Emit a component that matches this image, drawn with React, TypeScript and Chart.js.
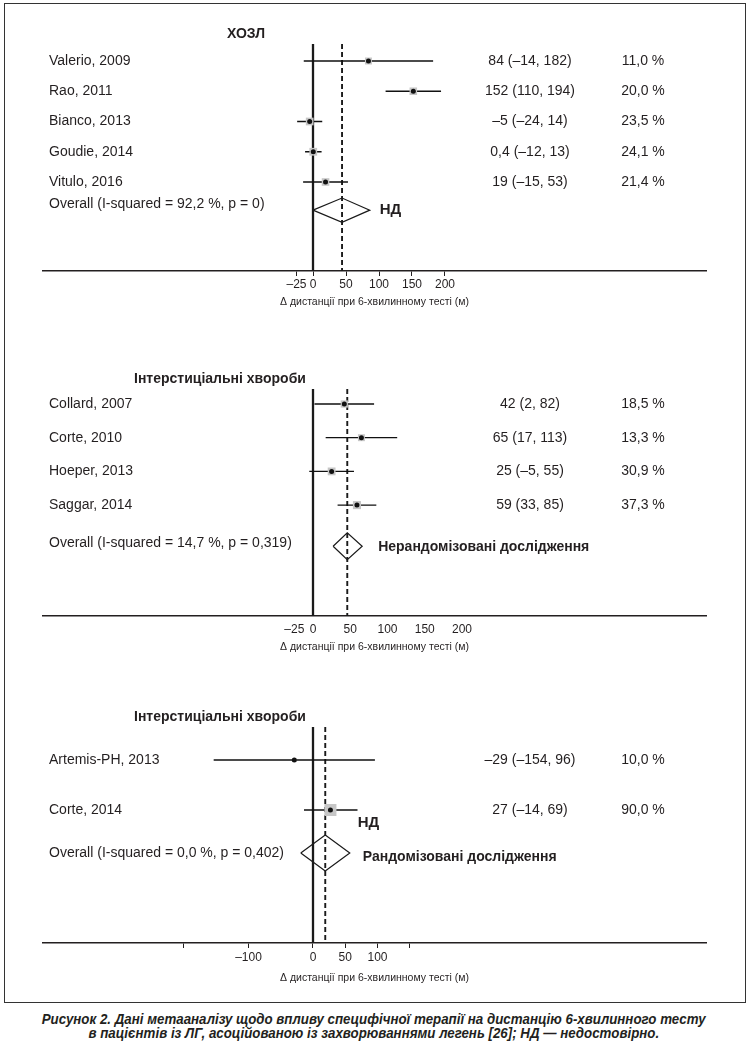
import React, { useEffect, useLayoutEffect, useRef } from "react";
import { Chart, registerables } from "chart.js";
Chart.register(...registerables);

// ---------- Panel 1: ХОЗЛ ----------
const copdHeader = "ХОЗЛ";
const copdStudies = ["Valerio, 2009", "Rao, 2011", "Bianco, 2013", "Goudie, 2014", "Vitulo, 2016"];
const copdEstimate = [84, 152, -5, 0.4, 19];
const copdLower = [-14, 110, -24, -12, -15];
const copdUpper = [182, 194, 14, 13, 53];
const copdWeight = [11.0, 20.0, 23.5, 24.1, 21.4];
const copdOverallLabel = "Overall (I-squared = 92,2 %, p = 0)";
const copdOverall = [0, 44, 86]; // lower, estimate, upper
const copdNotes = ["НД"];
const copdTicks = [-25, 0, 50, 100, 150, 200];
const copdTickLabels = ["–25", "0", "50", "100", "150", "200"];

// ---------- Panel 2: Інтерстиціальні хвороби (нерандомізовані) ----------
const ildNrHeader = "Інтерстиціальні хвороби";
const ildNrStudies = ["Collard, 2007", "Corte, 2010", "Hoeper, 2013", "Saggar, 2014"];
const ildNrEstimate = [42, 65, 25, 59];
const ildNrLower = [2, 17, -5, 33];
const ildNrUpper = [82, 113, 55, 85];
const ildNrWeight = [18.5, 13.3, 30.9, 37.3];
const ildNrOverallLabel = "Overall (I-squared = 14,7 %, p = 0,319)";
const ildNrOverall = [27, 46, 66];
const ildNrNotes = ["Нерандомізовані дослідження"];
const ildNrTicks = [-25, 0, 50, 100, 150, 200];
const ildNrTickLabels = ["–25", "0", "50", "100", "150", "200"];

// ---------- Panel 3: Інтерстиціальні хвороби (рандомізовані) ----------
const ildRHeader = "Інтерстиціальні хвороби";
const ildRStudies = ["Artemis-PH, 2013", "Corte, 2014"];
const ildREstimate = [-29, 27];
const ildRLower = [-154, -14];
const ildRUpper = [96, 69];
const ildRWeight = [10.0, 90.0];
const ildROverallLabel = "Overall (I-squared = 0,0 %, p = 0,402)";
const ildROverall = [-19, 19, 57];
const ildRNotes = ["Рандомізовані дослідження", "НД"];
const ildRTicks = [-200, -100, 0, 50, 100, 150];
const ildRTickLabels = ["", "–100", "0", "50", "100", ""];

const axisTitle = "Δ дистанції при 6-хвилинному тесті (м)";
const caption1 = "Рисунок 2. Дані метааналізу щодо впливу специфічної терапії на дистанцію 6-хвилинного тесту";
const caption2 = "в пацієнтів із ЛГ, асоційованою із захворюваннями легень [26]; НД — недостовірно.";

const INK = "#231f20";
const FONT = '"Liberation Sans", Arial, Helvetica, sans-serif';

type NotePos = { dx: number; dy: number; size: number };
type Layout = {
  top: number;
  height: number;
  padTop: number;
  padBottom: number;
  xMin: number;
  xMax: number;
  yMin: number;
  yMax: number;
  overallGap: number;
  diamondHalf: number;
  headerX: number;
  boxA: number;
  boxB: number;
  tickColor: string;
  tickPadding: number;
  titlePadTop: number;
  overallTextDy: number;
  notePos: NotePos[];
};

type PanelData = {
  header: string;
  studies: string[];
  estimate: number[];
  lower: number[];
  upper: number[];
  weight: number[];
  overallLabel: string;
  overall: number[];
  notes: string[];
  ticks: number[];
  tickLabels: string[];
};

const fmtNum = (v: number) => String(v).replace(".", ",").replace("-", "–");
const fmtCI = (e: number, l: number, h: number) => `${fmtNum(e)} (${fmtNum(l)}, ${fmtNum(h)})`;
const fmtW = (w: number) => w.toFixed(1).replace(".", ",") + " %";

function ForestPanel({ data, layout }: { data: PanelData; layout: Layout }) {
  const ref = useRef<HTMLCanvasElement | null>(null);
  useEffect(() => {
    if (!ref.current) return;
    const n = data.studies.length;
    const overallRow = n + layout.overallGap;
    const rows = data.studies.map((_, i) => i + 1);
    const ci = rows.flatMap((r, i) => [
      { x: data.lower[i], y: r },
      { x: data.upper[i], y: r },
      { x: data.upper[i], y: null as any },
    ]);
    const [oLo, oEst, oHi] = data.overall;
    const dh = layout.diamondHalf;
    const diamond = [
      { x: oLo, y: overallRow },
      { x: oEst, y: overallRow - dh },
      { x: oHi, y: overallRow },
      { x: oEst, y: overallRow + dh },
      { x: oLo, y: overallRow },
    ];
    const points = rows.map((r, i) => ({ x: data.estimate[i], y: r }));
    const boxRadii = data.weight.map((w) => (layout.boxA + layout.boxB * Math.sqrt(w)) / Math.SQRT2);

    const textPlugin = {
      id: "forestText",
      afterDraw(chart: any) {
        const { ctx, chartArea, scales } = chart;
        const ys = scales.y;
        const xs = scales.x;
        ctx.save();
        ctx.fillStyle = INK;
        ctx.textBaseline = "middle";
        ctx.textAlign = "left";
        ctx.font = `bold 14px ${FONT}`;
        ctx.fillText(data.header, layout.headerX, chartArea.top - 10);
        ctx.font = `14px ${FONT}`;
        rows.forEach((r, i) => {
          const py = ys.getPixelForValue(r);
          ctx.textAlign = "left";
          ctx.fillText(data.studies[i], 49, py);
          ctx.textAlign = "center";
          ctx.fillText(fmtCI(data.estimate[i], data.lower[i], data.upper[i]), 530, py);
          ctx.fillText(fmtW(data.weight[i]), 643, py);
        });
        const oy = ys.getPixelForValue(overallRow);
        ctx.textAlign = "left";
        ctx.fillText(data.overallLabel, 49, oy + layout.overallTextDy);
        const rightPx = xs.getPixelForValue(oHi);
        data.notes.forEach((t, i) => {
          const np = layout.notePos[i];
          ctx.font = `bold ${np.size}px ${FONT}`;
          ctx.fillText(t, rightPx + np.dx, oy + np.dy);
        });
        ctx.restore();
      },
    };

    const chart = new Chart(ref.current, {
      type: "scatter",
      data: {
        datasets: [
          {
            data: points,
            pointStyle: "circle",
            pointRadius: 2.5,
            backgroundColor: "#111",
            borderWidth: 0,
            order: 0,
          },
          {
            data: points,
            pointStyle: "rect",
            pointRadius: boxRadii,
            backgroundColor: "#c6c6c6",
            borderWidth: 0,
            order: 1,
          },
          {
            data: ci,
            showLine: true,
            spanGaps: false,
            borderColor: "#111",
            borderWidth: 1.3,
            pointRadius: 0,
            order: 2,
          },
          {
            data: [
              { x: 0, y: layout.yMin },
              { x: 0, y: layout.yMax },
            ],
            showLine: true,
            borderColor: "#1a1a1a",
            borderWidth: 2.3,
            pointRadius: 0,
            order: 3,
          },
          {
            data: [
              { x: oEst, y: layout.yMin },
              { x: oEst, y: layout.yMax },
            ],
            showLine: true,
            borderColor: "#1a1a1a",
            borderWidth: 1.9,
            borderDash: [5, 3],
            pointRadius: 0,
            order: 4,
          },
          {
            data: diamond,
            showLine: true,
            borderColor: "#1a1a1a",
            borderWidth: 1.2,
            borderJoinStyle: "miter",
            pointRadius: 0,
            order: 5,
          },
        ] as any,
      },
      options: {
        responsive: false,
        maintainAspectRatio: false,
        animation: false,
        events: [],
        layout: { padding: { left: 43, right: 42, top: layout.padTop, bottom: layout.padBottom } },
        plugins: { legend: { display: false }, tooltip: { enabled: false } },
        scales: {
          x: {
            type: "linear",
            min: layout.xMin,
            max: layout.xMax,
            afterBuildTicks: (s: any) => {
              s.ticks = data.ticks.map((v) => ({ value: v }));
            },
            ticks: {
              autoSkip: false,
              maxRotation: 0,
              padding: layout.tickPadding,
              color: INK,
              font: { family: FONT, size: 12 },
              callback: (_v: any, i: number) => data.tickLabels[i],
            },
            grid: {
              display: true,
              drawOnChartArea: false,
              drawTicks: true,
              tickLength: 5,
              color: layout.tickColor,
              lineWidth: 1,
            },
            border: { display: true, color: INK, width: 1.5 },
            title: {
              display: true,
              text: axisTitle,
              color: INK,
              font: { family: FONT, size: 10.5 },
              padding: { top: layout.titlePadTop, bottom: 2 },
            },
          },
          y: {
            type: "linear",
            display: false,
            reverse: true,
            min: layout.yMin,
            max: layout.yMax,
          },
        },
      } as any,
      plugins: [textPlugin],
    });
    return () => chart.destroy();
  }, [data, layout]);
  return (
    <canvas
      ref={ref}
      width={748}
      height={layout.height}
      style={{ position: "absolute", left: 0, top: layout.top, width: 748, height: layout.height }}
    />
  );
}

const copdData: PanelData = {
  header: copdHeader,
  studies: copdStudies,
  estimate: copdEstimate,
  lower: copdLower,
  upper: copdUpper,
  weight: copdWeight,
  overallLabel: copdOverallLabel,
  overall: copdOverall,
  notes: copdNotes,
  ticks: copdTicks,
  tickLabels: copdTickLabels,
};
const ildNrData: PanelData = {
  header: ildNrHeader,
  studies: ildNrStudies,
  estimate: ildNrEstimate,
  lower: ildNrLower,
  upper: ildNrUpper,
  weight: ildNrWeight,
  overallLabel: ildNrOverallLabel,
  overall: ildNrOverall,
  notes: ildNrNotes,
  ticks: ildNrTicks,
  tickLabels: ildNrTickLabels,
};
const ildRData: PanelData = {
  header: ildRHeader,
  studies: ildRStudies,
  estimate: ildREstimate,
  lower: ildRLower,
  upper: ildRUpper,
  weight: ildRWeight,
  overallLabel: ildROverallLabel,
  overall: ildROverall,
  notes: ildRNotes,
  ticks: ildRTicks,
  tickLabels: ildRTickLabels,
};

const copdLayout: Layout = {
  top: 0,
  height: 320,
  padTop: 44,
  padBottom: 10,
  xMin: (43 - 313) / 0.66,
  xMax: (706 - 313) / 0.66,
  yMin: 1 - 17 / 30.25,
  yMax: 1 + 210 / 30.25,
  overallGap: 0.93,
  diamondHalf: 0.4,
  headerX: 227,
  boxA: 5.3,
  boxB: 0.5,
  tickColor: INK,
  tickPadding: 1,
  titlePadTop: 3,
  overallTextDy: -6,
  notePos: [{ dx: 10, dy: 0, size: 15 }],
};
const ildNrLayout: Layout = {
  top: 340,
  height: 320,
  padTop: 49,
  padBottom: 5,
  xMin: (43 - 313) / 0.745,
  xMax: (706 - 313) / 0.745,
  yMin: 1 - 15 / 33.7,
  yMax: 1 + 212 / 33.7,
  overallGap: 1.22,
  diamondHalf: 0.4,
  headerX: 134,
  boxA: 5.3,
  boxB: 0.45,
  tickColor: "rgba(0,0,0,0)",
  tickPadding: 1,
  titlePadTop: 3,
  overallTextDy: -3,
  notePos: [{ dx: 16, dy: 1, size: 14 }],
};
const ildRLayout: Layout = {
  top: 680,
  height: 320,
  padTop: 47,
  padBottom: 14,
  xMin: (43 - 313) / 0.645,
  xMax: (706 - 313) / 0.645,
  yMin: 1 - 33 / 50,
  yMax: 1 + 183 / 50,
  overallGap: 0.86,
  diamondHalf: 0.36,
  headerX: 134,
  boxA: 0,
  boxB: 1.27,
  tickColor: INK,
  tickPadding: 2,
  titlePadTop: 5,
  overallTextDy: 0,
  notePos: [
    { dx: 13, dy: 4, size: 14 },
    { dx: 8, dy: -30, size: 15 },
  ],
};

function Caption() {
  const l1 = useRef<HTMLSpanElement | null>(null);
  const l2 = useRef<HTMLSpanElement | null>(null);
  useLayoutEffect(() => {
    if (!l1.current || !l2.current) return;
    const w = l1.current.getBoundingClientRect().width;
    const k = w > 0 ? 664 / w : 1;
    l1.current.style.transform = `scaleX(${k})`;
    l2.current.style.transform = `scaleX(${k})`;
  }, []);
  const spanStyle: React.CSSProperties = { display: "inline-block", whiteSpace: "nowrap", transformOrigin: "center" };
  return (
    <div
      style={{
        position: "absolute",
        left: 0,
        top: 1012,
        width: 748,
        textAlign: "center",
        fontFamily: FONT,
        fontWeight: "bold",
        fontStyle: "italic",
        fontSize: 14.5,
        lineHeight: "14px",
        color: INK,
      }}
    >
      <div>
        <span ref={l1} style={spanStyle}>
          {caption1}
        </span>
      </div>
      <div>
        <span ref={l2} style={spanStyle}>
          {caption2}
        </span>
      </div>
    </div>
  );
}

export default function App() {
  return (
    <div style={{ position: "absolute", left: 0, top: 0, width: 748, height: 1049, background: "#fff" }}>
      <div
        style={{
          position: "absolute",
          left: 4,
          top: 3,
          width: 740,
          height: 998,
          border: "1.5px solid #333",
        }}
      />
      <ForestPanel data={copdData} layout={copdLayout} />
      <ForestPanel data={ildNrData} layout={ildNrLayout} />
      <ForestPanel data={ildRData} layout={ildRLayout} />
      <Caption />
    </div>
  );
}
